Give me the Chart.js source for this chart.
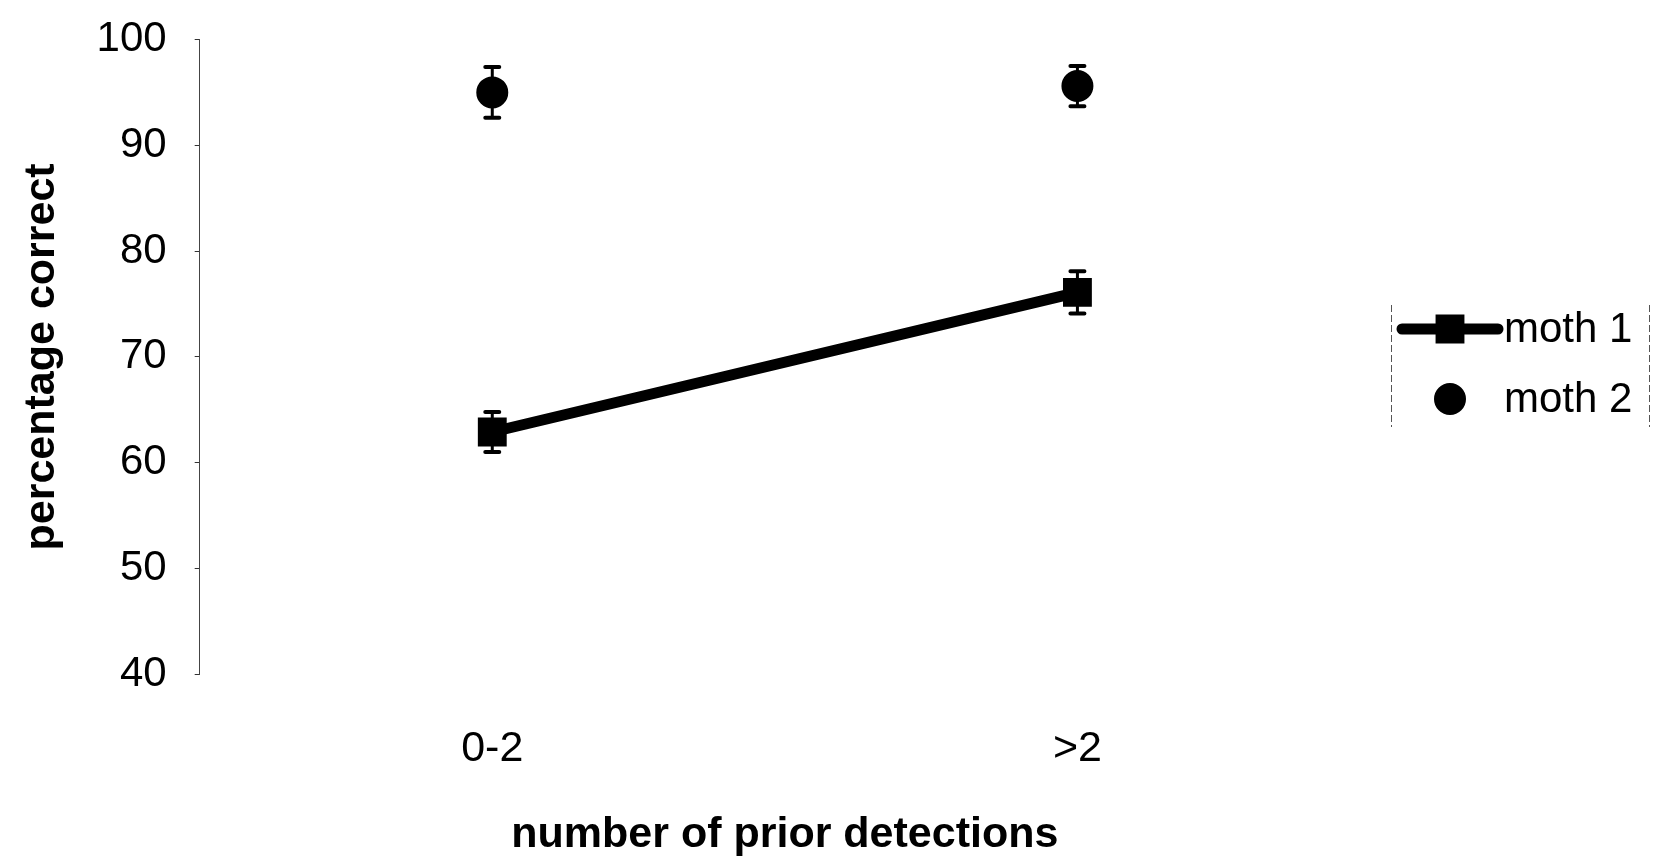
<!DOCTYPE html>
<html>
<head>
<meta charset="utf-8">
<script src="https://cdn.jsdelivr.net/npm/chart.js@4/dist/chart.umd.min.js"></script>
<style>
  html, body { margin: 0; padding: 0; background: #ffffff; }
  #wrap { width: 1663px; height: 864px; }
</style>
</head>
<body>
<div id="wrap"><canvas id="chart" width="1663" height="864"></canvas></div>
<script>
// Categories on the x axis
const categories = ['0-2', '>2'];

// Mean percentage correct per group
const moth1 = [62.9, 76.1];
const moth2 = [95.0, 95.6];

// Error bar half-lengths (same units as the means)
const moth1Err = [1.9, 2.0];
const moth2Err = [2.4, 1.9];

// Y axis range and step
const yMin = 40;
const yMax = 100;
const yStep = 10;

const FONT = "'Liberation Sans', Arial, Helvetica, sans-serif";

// Vertical error bars with flat caps, drawn under the markers
const errorBars = {
  id: 'errorBars',
  beforeDatasetsDraw(chart) {
    const { ctx } = chart;
    const yScale = chart.scales.y;
    chart.data.datasets.forEach((ds, di) => {
      const meta = chart.getDatasetMeta(di);
      ds.errors.forEach((err, i) => {
        const pt = meta.data[i];
        const x = pt.x;
        const yTop = yScale.getPixelForValue(ds.data[i] + err);
        const yBot = yScale.getPixelForValue(ds.data[i] - err);
        ctx.save();
        ctx.strokeStyle = '#000';
        ctx.lineWidth = 3;
        ctx.beginPath();
        ctx.moveTo(x, yTop);
        ctx.lineTo(x, yBot);
        ctx.stroke();
        ctx.lineWidth = 4;
        ctx.lineCap = 'round';
        ctx.beginPath();
        ctx.moveTo(x - 7, yTop);
        ctx.lineTo(x + 7, yTop);
        ctx.moveTo(x - 7, yBot);
        ctx.lineTo(x + 7, yBot);
        ctx.stroke();
        ctx.restore();
      });
    });
  }
};

// Boxed legend on the right: line + marker for the joined series, marker only otherwise
const sideLegend = {
  id: 'sideLegend',
  afterDraw(chart) {
    const { ctx } = chart;
    const left = 1391, right = 1649, top = 305, bottom = 427;
    ctx.save();
    ctx.strokeStyle = '#555';
    ctx.lineWidth = 1;
    ctx.setLineDash([7, 3]);
    ctx.beginPath();
    ctx.moveTo(left + 0.5, top);
    ctx.lineTo(left + 0.5, bottom);
    ctx.moveTo(right + 0.5, top);
    ctx.lineTo(right + 0.5, bottom);
    ctx.stroke();
    ctx.setLineDash([]);

    const rows = [329, 399];
    chart.data.datasets.forEach((ds, i) => {
      const y = rows[i];
      const cx = 1450;
      if (ds.showLine !== false) {
        ctx.strokeStyle = ds.borderColor;
        ctx.lineWidth = ds.borderWidth;
        ctx.lineCap = 'round';
        ctx.beginPath();
        ctx.moveTo(1402, y);
        ctx.lineTo(1498, y);
        ctx.stroke();
      }
      ctx.fillStyle = ds.pointBackgroundColor;
      ctx.strokeStyle = ds.pointBorderColor;
      ctx.lineWidth = ds.pointBorderWidth;
      Chart.helpers.drawPoint(ctx, {
        pointStyle: ds.pointStyle,
        radius: ds.pointRadius,
        borderWidth: ds.pointBorderWidth,
        rotation: 0
      }, cx, y);
      ctx.fillStyle = '#000';
      ctx.font = '42px ' + FONT;
      ctx.textBaseline = 'middle';
      ctx.textAlign = 'left';
      ctx.fillText(ds.label, 1504, y + 1);
    });
    ctx.restore();
  }
};

new Chart(document.getElementById('chart'), {
  type: 'line',
  data: {
    labels: categories,
    datasets: [
      {
        label: 'moth 1',
        data: moth1,
        errors: moth1Err,
        borderColor: '#000',
        borderWidth: 11,
        borderCapStyle: 'round',
        pointStyle: 'rect',
        pointRadius: 19,
        pointBorderWidth: 2,
        pointBackgroundColor: '#000',
        pointBorderColor: '#000',
        tension: 0
      },
      {
        label: 'moth 2',
        data: moth2,
        errors: moth2Err,
        showLine: false,
        borderColor: '#000',
        borderWidth: 0,
        pointStyle: 'circle',
        pointRadius: 15,
        pointBorderWidth: 2,
        pointBackgroundColor: '#000',
        pointBorderColor: '#000'
      }
    ]
  },
  options: {
    responsive: false,
    animation: false,
    devicePixelRatio: 1,
    layout: { padding: { left: 0, right: 293, top: 39.5, bottom: 0 } },
    plugins: {
      legend: { display: false },
      tooltip: { enabled: false }
    },
    scales: {
      x: {
        type: 'category',
        offset: true,
        border: { display: false },
        grid: { display: false },
        ticks: {
          color: '#000',
          padding: 41,
          font: { family: FONT, size: 43 }
        },
        title: {
          display: true,
          text: 'number of prior detections',
          color: '#000',
          padding: { top: 0, bottom: 3 },
          font: { family: FONT, size: 43, weight: 'bold' }
        },
        afterFit(scale) { scale.height = 189.7; }
      },
      y: {
        min: yMin,
        max: yMax,
        border: { display: true, color: '#444', width: 1 },
        grid: {
          display: true,
          drawOnChartArea: false,
          drawTicks: true,
          tickLength: 5,
          color: '#333'
        },
        ticks: {
          stepSize: yStep,
          color: '#000',
          padding: 28,
          font: { family: FONT, size: 42 }
        },
        title: {
          display: true,
          text: 'percentage correct',
          color: '#000',
          padding: { top: 16, bottom: 0 },
          font: { family: FONT, size: 43, weight: 'bold' }
        },
        afterFit(scale) {
          scale.width = 199.7;
          scale.paddingTop = 20;
          scale.paddingBottom = 20;
        }
      }
    }
  },
  plugins: [errorBars, sideLegend]
});
</script>
</body>
</html>
